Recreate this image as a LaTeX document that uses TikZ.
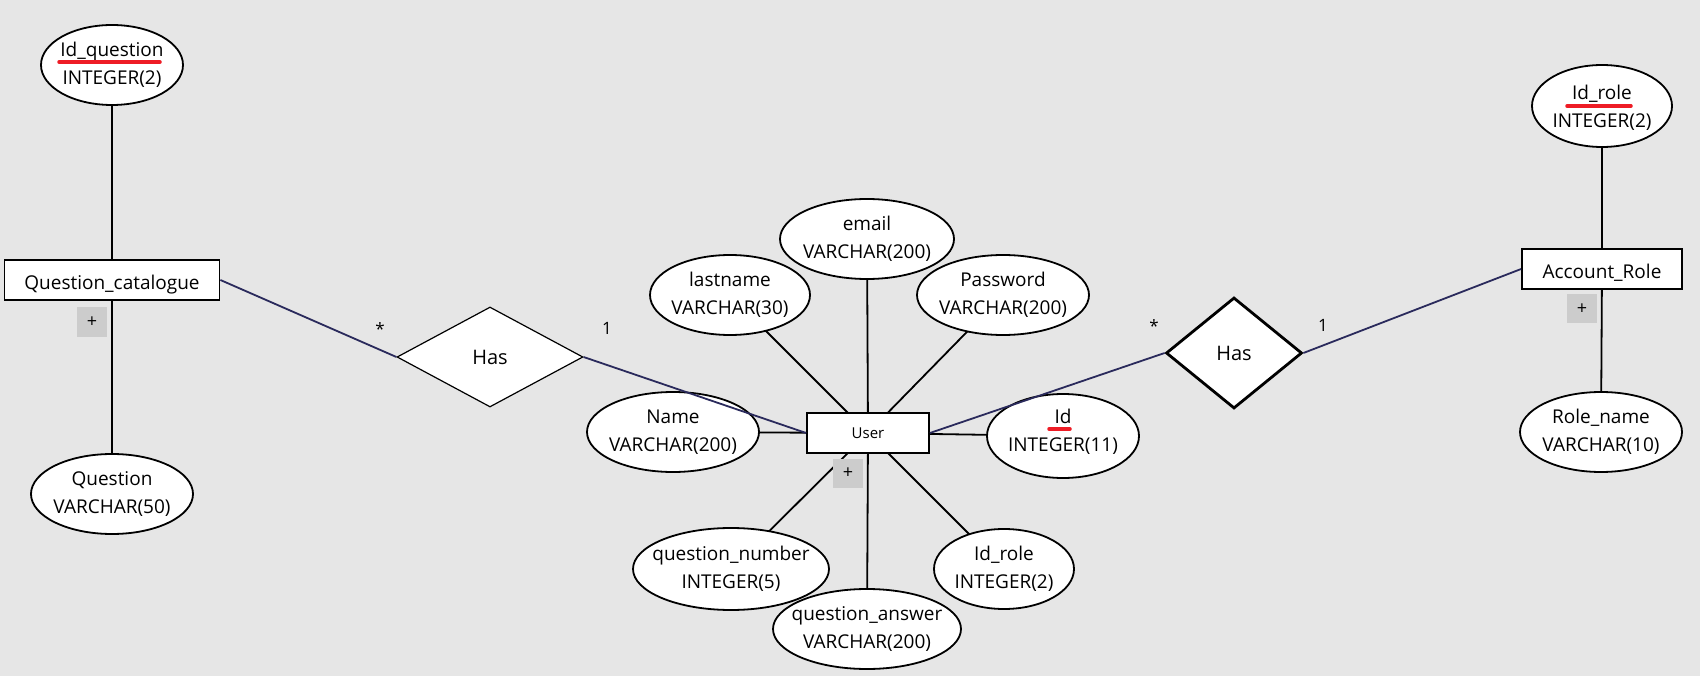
\documentclass[tikz,border=0pt]{standalone}
\usepackage{fontspec}
\setmainfont{Open Sans}
\usetikzlibrary{shapes.geometric}
\definecolor{bgc}{HTML}{E6E6E6}
\definecolor{relc}{HTML}{2A2A5C}
\definecolor{plusc}{HTML}{CCCCCC}
\definecolor{keyred}{HTML}{EE1C25}
\pgfdeclarelayer{back}
\pgfsetlayers{back,main}
\begin{document}
\begin{tikzpicture}[x=1pt,y=-1pt,
 attr/.style={ellipse, draw, fill=white, line width=1.8pt, inner sep=0pt},
 lab/.style={align=center, font=\fontsize{19}{28}\selectfont, inner sep=0pt},
 ent/.style={rectangle, draw, fill=white, line width=1.8pt, inner sep=0pt, minimum height=40pt, text height=19pt, text depth=0pt, font=\fontsize{19}{22}\selectfont},
 relbox/.style={diamond, draw, fill=white, inner sep=0pt, font=\fontsize{20}{24}\selectfont},
 conn/.style={line width=1.8pt},
 rline/.style={draw=relc, line width=1.8pt},
 card/.style={font=\fontsize{17}{20}\selectfont, inner sep=0pt},
 plusbox/.style={fill=plusc, minimum width=30pt, minimum height=29pt, inner sep=0pt, font=\fontsize{18}{20}\selectfont},
 keyline/.style={draw=keyred, line width=3.5pt, line cap=round}
]
\useasboundingbox (0,0) rectangle (1700,676);
\begin{pgfonlayer}{back}
\fill[bgc] (0,0) rectangle (1700,676);
\end{pgfonlayer}

% entities
\node[ent, minimum width=215pt] (qc) at (112,280) {Question\_catalogue};
\node[ent, minimum width=122pt, text height=10pt, font=\fontsize{15}{18}\selectfont] (user) at (868,433) {User};
\node[ent, minimum width=160pt] (role) at (1602,269) {Account\_Role};

% attributes
\node[attr, minimum width=142pt, minimum height=80pt, label={[lab]center:Id\_question\\INTEGER(2)}] (idq) at (112,65) {};
\node[attr, minimum width=162pt, minimum height=80pt, label={[lab]center:Question\\VARCHAR(50)}] (question) at (112,494) {};
\node[attr, minimum width=174pt, minimum height=80pt, label={[lab]center:email\\VARCHAR(200)}] (email) at (867,239) {};
\node[attr, minimum width=160pt, minimum height=80pt, label={[lab]center:lastname\\VARCHAR(30)}] (lastname) at (730,295) {};
\node[attr, minimum width=172pt, minimum height=80pt, label={[lab]center:Password\\VARCHAR(200)}] (password) at (1003,295) {};
\node[attr, minimum width=172pt, minimum height=80pt, label={[lab]center:Name\\VARCHAR(200)}] (name) at (673,432) {};
\node[attr, minimum width=196pt, minimum height=82pt, label={[lab]center:question\_number\\INTEGER(5)}] (qnum) at (731,569) {};
\node[attr, minimum width=188pt, minimum height=80pt, label={[lab]center:question\_answer\\VARCHAR(200)}] (qans) at (867,629) {};
\node[attr, minimum width=140pt, minimum height=80pt, label={[lab]center:Id\_role\\INTEGER(2)}] (uidrole) at (1004,569) {};
\node[attr, minimum width=152pt, minimum height=84pt, label={[lab,yshift=4pt]center:Id\\INTEGER(11)}] (uid) at (1063,436) {};
\node[attr, minimum width=140pt, minimum height=82pt, label={[lab,yshift=-2pt]center:Id\_role\\INTEGER(2)}] (ridrole) at (1602,106) {};
\node[attr, minimum width=162pt, minimum height=80pt, label={[lab]center:Role\_name\\VARCHAR(10)}] (rolename) at (1601,432) {};

% key underlines
\draw[keyline] (59,62) -- (160,62);
\draw[keyline] (1567,106) -- (1631,106);
\draw[keyline] (1049,429) -- (1070,429);

% attribute connectors
\begin{pgfonlayer}{back}
\draw[conn] (qc.center) -- (idq.center);
\draw[conn] (qc.center) -- (question.center);
\draw[conn] (user.center) -- (email.center);
\draw[conn] (user.center) -- (lastname.center);
\draw[conn] (user.center) -- (password.center);
\draw[conn] (user.center) -- (name.center);
\draw[conn] (user.center) -- (qnum.center);
\draw[conn] (user.center) -- (qans.center);
\draw[conn] (user.center) -- (uidrole.center);
\draw[conn] (user.center) -- (uid.center);
\draw[conn] (role.center) -- (ridrole.center);
\draw[conn] (role.center) -- (rolename.center);
\end{pgfonlayer}

% plus boxes
\node[plusbox] (pq) at (92,322) {+};
\node[plusbox] (pu) at (848,473) {+};
\node[plusbox] (pr) at (1582,309) {+};

% relationships
\node[relbox, minimum width=186pt, minimum height=100pt, line width=1.2pt] (has1) at (490,357) {Has};
\node[relbox, minimum width=136pt, minimum height=111pt, line width=2.8pt] (has2) at (1234,353) {Has};

\draw[rline] (qc.east) -- (has1.west);
\draw[rline] (has1.east) -- (user.west);
\draw[rline] (user.east) -- (has2.west);
\draw[rline] (has2.east) -- (role.west);

% cardinalities
\node[card] (c1) at (380,329) {*};
\node[card] (c2) at (607,328) {1};
\node[card] (c3) at (1154,326) {*};
\node[card] (c4) at (1323,325) {1};
\end{tikzpicture}
\end{document}
